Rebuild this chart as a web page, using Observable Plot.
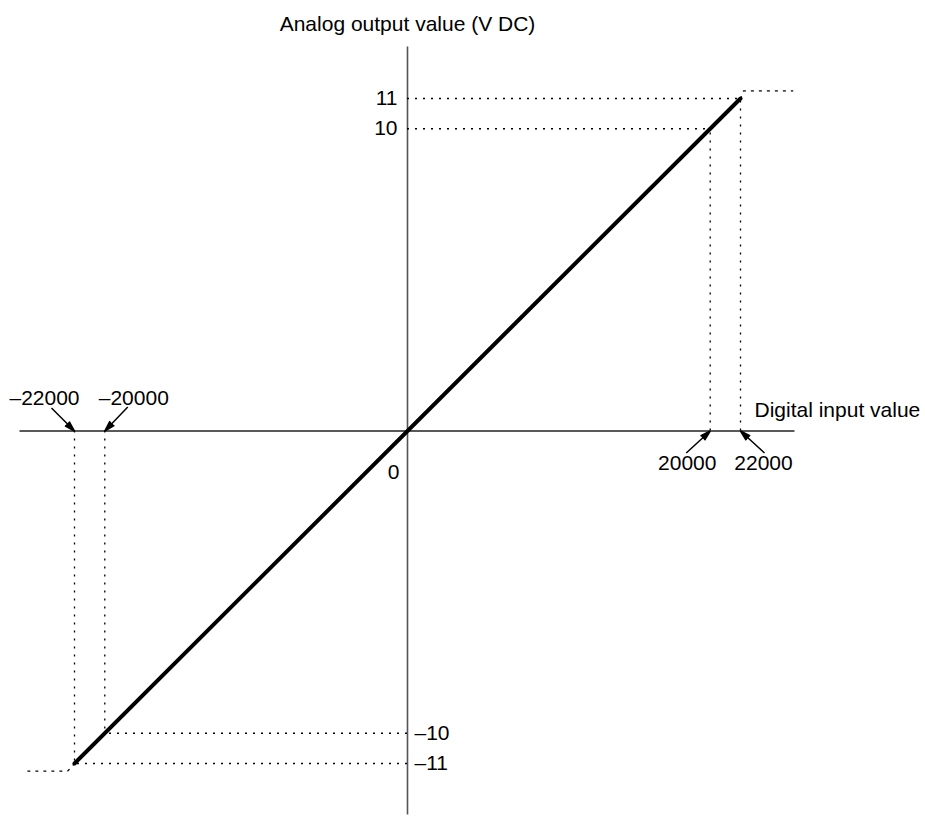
<!DOCTYPE html>
<html>
<head>
<meta charset="utf-8">
<script src="https://cdn.jsdelivr.net/npm/d3@7"></script>
<script src="https://cdn.jsdelivr.net/npm/@observablehq/plot@0.6"></script>
<style>
  body { margin: 0; background: #fff; }
  #chart svg { display: block; }
</style>
</head>
<body>
<div id="chart"></div>
<script>
// Digital input ticks and their labels
const inputTicks = [-22000, -20000, 20000, 22000];
const inputTickLabels = ["–22000", "–20000", "20000", "22000"];
// Analog output ticks and their labels
const outputTicks = [11, 10, -10, -11];
const outputTickLabels = ["11", "10", "–10", "–11"];
// Conversion characteristic: digital input -> analog output
const conversionInput = [-22000, 22000];
const conversionOutput = [-11, 11];
// Rated and limit points (input, output)
const limitInput = [20000, 22000, -20000, -22000];
const limitOutput = [10, 11, -10, -11];
// Output held past the limits
const clampRightInput = [22000, 22200, 25450];
const clampRightOutput = [11, 11.25, 11.25];
const clampLeftInput = [-22000, -22450, -25250];
const clampLeftOutput = [-11, -11.25, -11.25];
// Axis extents
const inputAxisExtent = [-25600, 25600];
const outputAxisExtent = [-12.7, 12.7];

const conversion = conversionInput.map((x, i) => ({x, y: conversionOutput[i]}));
const limits = limitInput.map((x, i) => ({x, y: limitOutput[i]}));
const clampRight = clampRightInput.map((x, i) => ({x, y: clampRightOutput[i]}));
const clampLeft = clampLeftInput.map((x, i) => ({x, y: clampLeftOutput[i]}));
const xTicks = inputTicks.map((x, i) => ({x, label: inputTickLabels[i]}));
const yTicks = outputTicks.map((y, i) => ({y, label: outputTickLabels[i]}));

// frame geometry
const W = 925, H = 817;
const mL = 74, mR = 185, mT = 98, mB = 54;
const xDomain = [-22000, 22000], yDomain = [-11, 11];
const pxPerX = (W - mL - mR) / (xDomain[1] - xDomain[0]);
const pxPerY = (H - mT - mB) / (yDomain[1] - yDomain[0]);

const font = "Liberation Sans, Arial, Helvetica, sans-serif";
const fs = 21;
const dotted = {stroke: "black", strokeWidth: 1.3, strokeDasharray: "2,6"};

// placement of each input tick label and the start of its leader, in pixels from the tick
const tickLayout = {
  "-22000": {label: [-30, -33], lead: [-23, -23]},
  "-20000": {label: [29, -33], lead: [23, -24]},
  "20000": {label: [-23, 32], lead: [-24, 22]},
  "22000": {label: [23, 32], lead: [24, 22]}
};

const tickLabelMarks = xTicks.map(d => {
  const [dx, dy] = tickLayout[d.x].label;
  return Plot.text([d], {x: "x", y: () => 0, text: "label", fontSize: fs, dx, dy});
});

const chart = Plot.plot({
  width: W,
  height: H,
  marginLeft: mL,
  marginRight: mR,
  marginTop: mT,
  marginBottom: mB,
  style: {fontFamily: font, background: "white", color: "black"},
  x: {domain: xDomain, axis: null},
  y: {domain: yDomain, axis: null},
  marks: [
    // axes through the origin
    Plot.ruleY([0], {x1: inputAxisExtent[0], x2: inputAxisExtent[1], stroke: "#222", strokeWidth: 1.4}),
    Plot.ruleX([0], {y1: outputAxisExtent[0], y2: outputAxisExtent[1], stroke: "#555", strokeWidth: 1.6}),
    // dotted guides to the limit points
    Plot.ruleX(limits, {x: "x", y1: () => 0, y2: "y", ...dotted}),
    Plot.ruleY(limits, {y: "y", x1: () => 0, x2: "x", ...dotted}),
    Plot.line(clampRight, {x: "x", y: "y", ...dotted}),
    Plot.line(clampLeft, {x: "x", y: "y", ...dotted}),
    // conversion line
    Plot.line(conversion, {x: "x", y: "y", stroke: "black", strokeWidth: 4}),
    // output tick labels
    Plot.text(yTicks.filter(d => d.y > 0), {x: () => 0, y: "y", text: "label", textAnchor: "end", dx: -10, fontSize: fs}),
    Plot.text(yTicks.filter(d => d.y < 0), {x: () => 0, y: "y", text: "label", textAnchor: "start", dx: 7, fontSize: fs}),
    // leaders from the input tick labels to the axis
    Plot.arrow(xTicks, {
      x1: d => d.x + tickLayout[d.x].lead[0] / pxPerX,
      y1: d => -tickLayout[d.x].lead[1] / pxPerY,
      x2: "x",
      y2: () => 0,
      headLength: 13,
      headAngle: 32,
      stroke: "black",
      fill: "black",
      strokeWidth: 1.5,
      strokeLinecap: "butt",
      strokeLinejoin: "miter"
    }),
    ...tickLabelMarks,
    // origin
    Plot.text(["0"], {x: () => 0, y: () => 0, text: d => d, fontSize: fs, dx: -14, dy: 41}),
    // axis titles
    Plot.text(["Digital input value"], {x: () => 22000, y: () => 0, text: d => d, textAnchor: "start", fontSize: fs, dx: 14, dy: -21}),
    Plot.text(["Analog output value (V DC)"], {x: () => 0, y: () => outputAxisExtent[1], text: d => d, fontSize: fs, dy: -23})
  ]
});

document.getElementById("chart").appendChild(chart);
</script>
</body>
</html>
